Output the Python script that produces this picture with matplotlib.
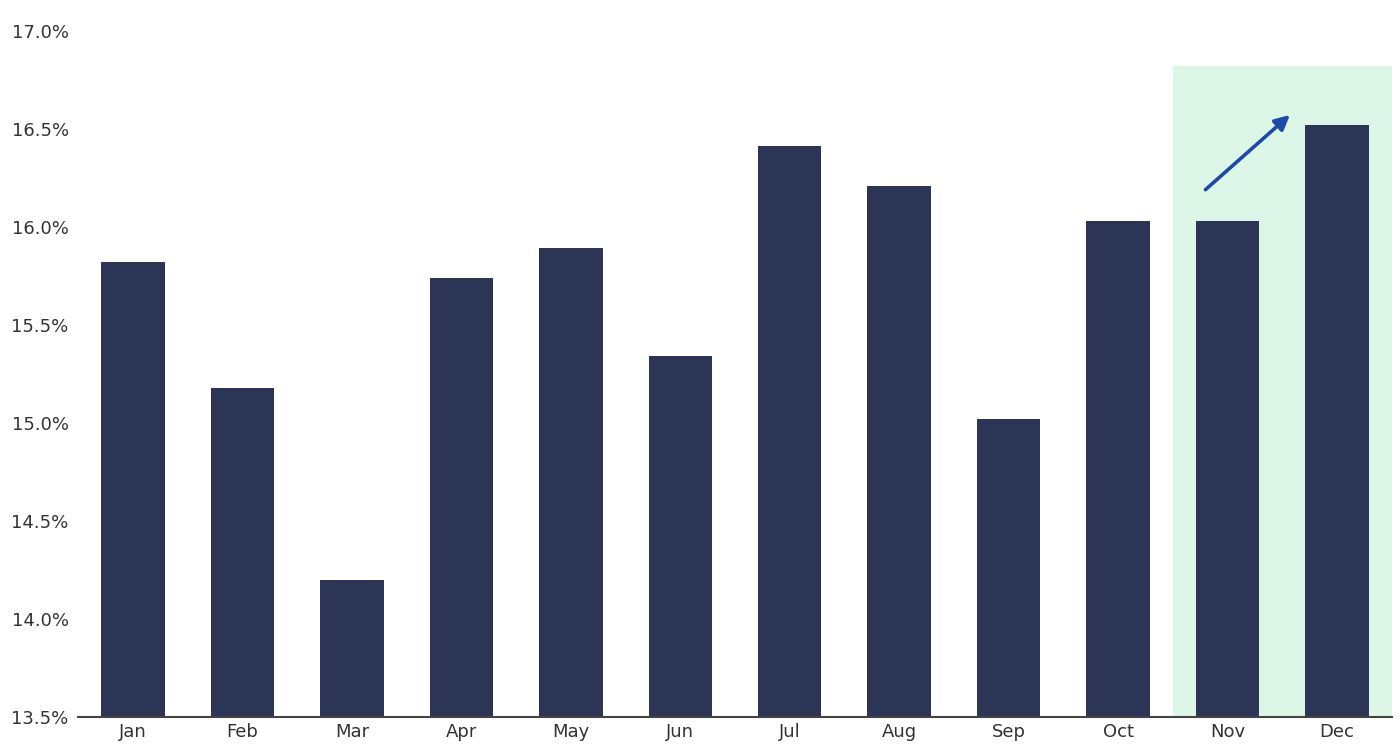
import matplotlib.pyplot as plt
from matplotlib.patches import Rectangle
from matplotlib.ticker import FuncFormatter

months = ['Jan', 'Feb', 'Mar', 'Apr', 'May', 'Jun',
          'Jul', 'Aug', 'Sep', 'Oct', 'Nov', 'Dec']
rates = [15.82, 15.18, 14.20, 15.74, 15.89, 15.34,
         16.41, 16.21, 15.02, 16.03, 16.03, 16.52]

# highlighted region (Nov-Dec) and trend arrow
hl_top = 16.82
arrow_start = (9.78, 16.18)
arrow_end = (10.59, 16.58)

fig = plt.figure(figsize=(14, 7.5), dpi=100)
ax = fig.add_axes([0.056, 0.044, 0.938, 0.915])

x = list(range(len(months)))
ax.add_patch(Rectangle((9.5, 13.5), 2.0, hl_top - 13.5,
                       facecolor='#dcf6e8', edgecolor='none', zorder=0))
ax.bar(x, rates, width=0.58, color='#2d3557', zorder=2)

ax.annotate('', xy=arrow_end, xytext=arrow_start,
            arrowprops=dict(arrowstyle='-|>', color='#1d4aa8', lw=2.6,
                            mutation_scale=22),
            zorder=3)

ax.set_xlim(-0.5, 11.5)
ax.set_ylim(13.5, 17.0)
ax.set_yticks([13.5, 14.0, 14.5, 15.0, 15.5, 16.0, 16.5, 17.0])
ax.yaxis.set_major_formatter(FuncFormatter(lambda v, p: '%.1f%%' % v))
ax.set_xticks(x)
ax.set_xticklabels(months)
ax.tick_params(axis='both', length=0, labelsize=13, colors='#333333')
ax.tick_params(axis='x', pad=4)
ax.tick_params(axis='y', pad=7)

for s in ['top', 'right', 'left']:
    ax.spines[s].set_visible(False)
ax.spines['bottom'].set_color('#444444')
ax.spines['bottom'].set_linewidth(1.5)

fig.savefig('out.png', dpi=100)
